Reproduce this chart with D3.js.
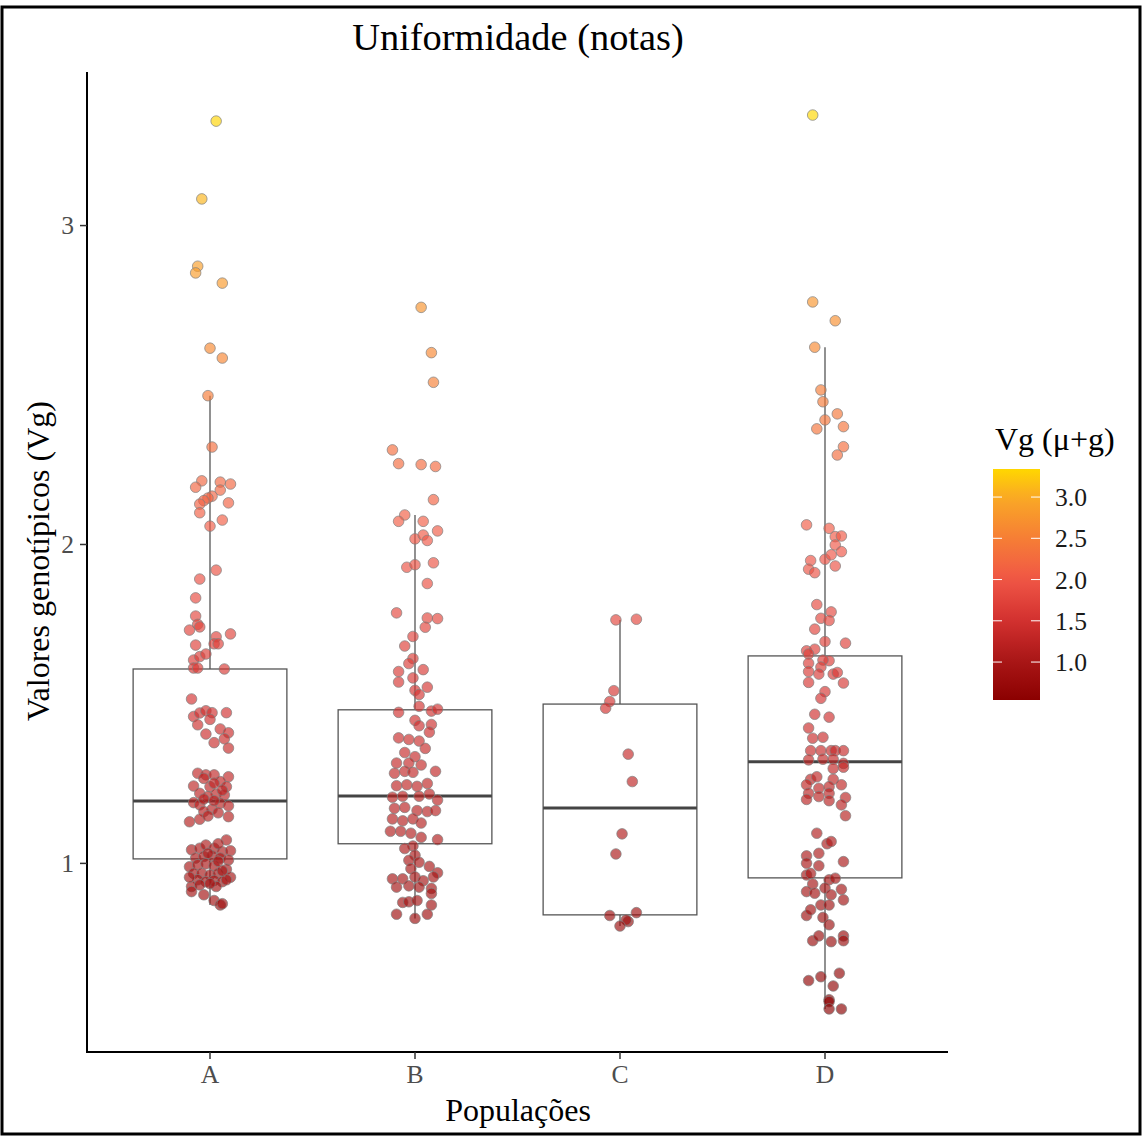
<!DOCTYPE html>
<html>
<head>
<meta charset="utf-8">
<script src="https://cdn.jsdelivr.net/npm/d3@7"></script>
<style>
  body { margin: 0; background: #fff; }
  text { font-family: "Liberation Serif", "Times New Roman", serif; }
</style>
</head>
<body>
<script>
// populations and the box stats
const populations = ['A', 'B', 'C', 'D']
const q1 = [1.0125, 1.06, 0.837, 0.953]
const medians = [1.194, 1.21, 1.172, 1.317]
const q3 = [1.608, 1.48, 1.498, 1.649]
const whiskLo = [0.868, 0.826, 0.802, 0.542]
const whiskHi = [2.465, 2.091, 1.762, 2.617]

const yTicks = [1, 2, 3]
const legendTicks = [1.0, 1.5, 2.0, 2.5, 3.0]

// points: [Vg, jitter offset in category units]
const pointsA = [[3.326,0.03],[3.082,-0.04],[2.871,-0.06],[2.850,-0.07],[2.818,0.06],[2.614,0.0],[2.583,0.06],[2.465,-0.01],[2.304,0.01],
  [2.198,-0.04],[2.178,-0.07],[2.194,0.05],[2.188,0.10],[2.169,0.05],[2.150,0.01],[2.144,-0.01],[2.136,-0.03],[2.125,-0.05],[2.129,0.09],[2.098,-0.05],[2.075,0.06],[2.056,0.0],
  [1.918,0.03],[1.890,-0.05],[1.831,-0.07],[1.774,-0.07],[1.748,-0.06],[1.730,-0.10],[1.740,-0.05],[1.718,0.10],[1.709,0.03],
  [1.683,-0.07],[1.687,0.02],[1.687,0.04],[1.636,-0.08],[1.647,-0.05],[1.655,-0.02],[1.611,-0.08],[1.611,-0.06],[1.608,0.07],
  [1.514,-0.09],[1.459,-0.08],[1.470,-0.05],[1.477,-0.02],[1.471,0.01],[1.450,0.0],[1.471,0.08],
  [1.433,-0.06],[1.420,0.05],[1.408,0.09],[1.404,-0.02],[1.389,0.07],[1.377,0.02],[1.360,0.09],
  [1.281,-0.06],[1.276,-0.02],[1.276,0.02],[1.270,0.09],[1.255,0.05],[1.241,-0.08],[1.239,0.0],[1.239,0.08],[1.218,-0.05],[1.216,0.03],[1.213,0.07],[1.208,-0.01],
  [1.189,-0.08],[1.182,-0.05],[1.187,0.05],[1.179,0.09],[1.168,0.01],[1.161,-0.03],[1.157,0.04],[1.145,0.09],[1.129,-0.10],[1.137,-0.05],[1.147,-0.01],
  [1.265,-0.03],[1.250,0.02],[1.228,0.06],[1.200,-0.03],[1.195,0.02],
  [1.072,0.08],[1.041,-0.09],[1.046,-0.05],[1.056,-0.02],[1.046,0.02],[1.035,0.06],[1.038,0.10],[1.015,-0.07],[1.020,-0.03],[1.022,0.01],[1.015,0.05],[1.009,0.09],
  [0.988,-0.10],[0.994,-0.06],[0.997,-0.02],[0.991,0.02],[0.980,0.08],[0.967,-0.08],[0.967,-0.04],[0.962,0.0],[0.967,0.04],[0.955,0.10],
  [0.947,-0.06],[0.941,-0.02],[0.945,0.02],[0.941,0.06],[0.947,0.08],[0.926,-0.09],[0.931,-0.05],[0.926,0.03],[0.910,-0.09],[0.900,-0.03],[0.882,0.02],[0.868,0.05],
  [1.030,-0.01],[1.005,0.04],[0.975,0.06],[0.955,-0.10],[0.935,0.0],[1.060,0.04],[0.872,0.06]]

const pointsB = [[2.742,0.03],[2.600,0.08],[2.507,0.09],[2.295,-0.11],[2.252,-0.08],[2.249,0.03],[2.243,0.10],[2.139,0.09],[2.091,-0.05],[2.071,-0.08],[2.071,0.04],[2.041,0.11],
  [2.016,0.0],[2.028,0.04],[2.011,0.06],[1.927,-0.04],[1.935,0.0],[1.941,0.09],[1.876,0.06],[1.784,-0.09],[1.768,0.06],[1.766,0.11],[1.739,0.05],[1.710,-0.01],[1.680,-0.05],
  [1.641,-0.01],[1.625,-0.03],[1.600,-0.08],[1.606,0.04],[1.567,-0.08],[1.580,-0.01],[1.541,0.0],[1.551,0.06],[1.528,0.02],[1.472,-0.08],[1.491,0.02],[1.476,0.08],[1.482,0.11],
  [1.447,0.0],[1.430,0.02],[1.434,0.08],[1.392,-0.08],[1.387,-0.03],[1.382,0.02],[1.410,0.07],[1.346,-0.05],[1.333,0.0],[1.359,0.05],[1.313,-0.09],[1.313,-0.03],[1.307,0.03],[1.287,0.10],
  [1.281,-0.10],[1.287,-0.05],[1.284,-0.01],[1.242,-0.09],[1.245,-0.04],[1.240,0.01],[1.249,0.06],[1.206,-0.11],[1.209,-0.06],[1.209,0.02],[1.216,0.07],[1.197,0.11],
  [1.171,-0.10],[1.174,-0.05],[1.164,0.01],[1.161,0.06],[1.164,0.10],[1.138,-0.11],[1.132,-0.06],[1.138,-0.01],[1.125,0.03],[1.099,-0.12],[1.099,-0.07],[1.093,-0.02],[1.080,0.03],[1.073,0.11],
  [1.053,-0.01],[1.045,-0.05],[1.024,0.0],[1.008,-0.03],[1.002,0.02],[0.982,-0.02],[0.989,0.07],[0.969,0.11],[0.950,-0.11],[0.950,-0.06],[0.956,0.0],[0.944,0.04],[0.956,0.09],
  [0.924,-0.09],[0.928,-0.03],[0.924,0.02],[0.920,0.08],[0.904,0.08],[0.876,-0.06],[0.878,-0.03],[0.882,0.01],[0.868,0.08],[0.839,-0.09],[0.826,0.0],[0.839,0.06]]

const pointsC = [[1.762,-0.02],[1.764,0.08],[1.540,-0.03],[1.506,-0.05],[1.485,-0.07],[1.341,0.04],[1.255,0.06],[1.091,0.01],[1.028,-0.02],
  [0.835,-0.05],[0.844,0.08],[0.816,0.04],[0.821,0.03],[0.802,0.0]]

const pointsD = [[3.345,-0.06],[2.759,-0.06],[2.700,0.05],[2.617,-0.05],[2.483,-0.02],[2.446,-0.01],[2.408,0.06],[2.389,0.0],[2.368,0.09],[2.361,-0.04],[2.305,0.09],[2.279,0.06],
  [2.060,-0.09],[2.049,0.02],[2.023,0.05],[2.025,0.08],[1.997,0.05],[1.948,-0.07],[1.976,0.08],[1.952,0.0],[1.966,0.03],[1.921,-0.08],[1.910,-0.05],[1.931,0.05],
  [1.810,-0.04],[1.787,0.03],[1.767,-0.02],[1.760,0.02],[1.733,-0.05],[1.694,0.0],[1.689,0.10],[1.665,-0.09],[1.670,-0.05],[1.655,-0.08],[1.634,0.02],[1.636,-0.01],
  [1.626,-0.08],[1.614,-0.02],[1.600,-0.08],[1.592,-0.03],[1.592,0.04],[1.597,0.06],[1.566,-0.08],[1.564,0.09],[1.537,0.0],[1.516,-0.02],[1.466,-0.05],[1.457,0.02],
  [1.423,-0.08],[1.391,-0.06],[1.394,-0.01],[1.352,-0.07],[1.352,-0.02],[1.352,0.03],[1.352,0.05],[1.352,0.09],[1.323,-0.08],[1.325,-0.01],[1.325,0.04],[1.312,0.09],
  [1.296,0.04],[1.300,0.09],[1.262,-0.07],[1.270,-0.04],[1.262,0.04],[1.245,-0.09],[1.234,-0.03],[1.239,0.02],[1.245,0.08],[1.218,-0.08],[1.208,-0.03],[1.218,0.02],[1.205,0.10],
  [1.199,-0.09],[1.195,0.02],[1.182,0.08],[1.148,0.10],[1.093,-0.04],[1.060,0.01],[1.067,0.03],[1.022,-0.09],[1.030,-0.03],[0.999,-0.09],[0.991,-0.03],[1.004,0.09],
  [0.962,-0.09],[0.967,-0.07],[0.947,0.02],[0.952,0.05],[0.934,-0.06],[0.921,0.0],[0.917,0.08],[0.910,-0.09],[0.905,-0.05],[0.900,0.03],[0.884,0.09],[0.868,-0.02],[0.868,0.02],
  [0.835,-0.09],[0.853,-0.07],[0.829,-0.01],[0.806,0.02],[0.756,-0.06],[0.771,-0.03],[0.753,0.03],[0.771,0.09],[0.756,0.09],
  [0.631,-0.08],[0.643,-0.02],[0.654,0.07],[0.614,0.04],[0.571,0.02],[0.565,0.02],[0.542,0.02],[0.542,0.08]]

const allPoints = [pointsA, pointsB, pointsC, pointsD]

let width = 1143
let height = 1136

const svg = d3.select('body').append('svg').attr('width', width).attr('height', height)

// outer frame of the figure
svg.append('rect').attr('x', 2).attr('y', 7).attr('width', 1138).attr('height', 1127)
  .attr('fill', 'none').attr('stroke', '#000').attr('stroke-width', 3)

const xScale = d3.scaleBand().domain(populations).range([87, 948]).paddingInner(0).paddingOuter(0.1)
const yScale = d3.scaleLinear().domain([0.407, 3.48]).range([1052, 72])

const colorScale = d3.scaleLinear()
  .domain([0.54, 1.0, 1.5, 2.0, 2.5, 3.0, 3.34])
  .range(['#8B0000', '#A81616', '#D2302F', '#F05646', '#F67E35', '#FAA925', '#FFD700'])
  .interpolate(d3.interpolateRgb)

const step = xScale.step()
const boxW = step * 0.75
const center = (i) => xScale(populations[i]) + xScale.bandwidth() / 2

// whiskers + boxes
const boxes = svg.append('g')
populations.forEach((p, i) => {
  boxes.append('line').attr('x1', center(i)).attr('x2', center(i))
    .attr('y1', yScale(q3[i])).attr('y2', yScale(whiskHi[i]))
    .attr('stroke', '#555').attr('stroke-width', 1.3)
  boxes.append('line').attr('x1', center(i)).attr('x2', center(i))
    .attr('y1', yScale(q1[i])).attr('y2', yScale(whiskLo[i]))
    .attr('stroke', '#555').attr('stroke-width', 1.3)
  boxes.append('rect')
    .attr('x', center(i) - boxW / 2).attr('width', boxW)
    .attr('y', yScale(q3[i])).attr('height', yScale(q1[i]) - yScale(q3[i]))
    .attr('fill', '#fff').attr('stroke', '#555').attr('stroke-width', 1.3)
  boxes.append('line')
    .attr('x1', center(i) - boxW / 2).attr('x2', center(i) + boxW / 2)
    .attr('y1', yScale(medians[i])).attr('y2', yScale(medians[i]))
    .attr('stroke', '#444').attr('stroke-width', 3)
})

// jittered points
populations.forEach((p, i) => {
  svg.append('g')
    .selectAll('circle')
    .data(allPoints[i])
    .enter()
    .append('circle')
    .attr('cx', d => center(i) + d[1] * step)
    .attr('cy', d => yScale(d[0]))
    .attr('r', 5.3)
    .attr('fill', d => colorScale(d[0]))
    .attr('fill-opacity', 0.66)
    .attr('stroke', '#808080')
    .attr('stroke-opacity', 0.7)
    .attr('stroke-width', 1)
})

// axes
const yAxis = d3.axisLeft(yScale).tickValues(yTicks).tickSize(7).tickPadding(6).tickFormat(d3.format('d'))
const xAxis = d3.axisBottom(xScale).tickSize(7).tickPadding(6)

const gy = svg.append('g').attr('transform', 'translate(87,0)').call(yAxis)
const gx = svg.append('g').attr('transform', 'translate(0,1052)').call(xAxis)

;[gx, gy].forEach(g => {
  g.select('.domain').attr('stroke', '#000').attr('stroke-width', 2)
  g.selectAll('.tick line').attr('stroke', '#333').attr('stroke-width', 1.5)
  g.selectAll('.tick text').attr('fill', '#4D4D4D')
    .style('font-family', '"Liberation Serif", serif').style('font-size', '25.6px')
})
gy.select('.domain').attr('d', 'M0,1053V72')
gx.select('.domain').attr('d', 'M86,0H948')

// titles
svg.append('text').attr('x', 518).attr('y', 50).attr('text-anchor', 'middle')
  .style('font-size', '38.4px').text('Uniformidade (notas)')

svg.append('text').attr('x', 518).attr('y', 1121).attr('text-anchor', 'middle')
  .style('font-size', '32px').text('Populações')

svg.append('text').attr('transform', 'translate(49,561) rotate(-90)').attr('text-anchor', 'middle')
  .style('font-size', '32px').text('Valores genotípicos (Vg)')

// legend
const legendScale = d3.scaleLinear().domain([0.54, 3.34]).range([700, 469])
const defs = svg.append('defs')
const grad = defs.append('linearGradient').attr('id', 'vg-grad')
  .attr('x1', 0).attr('y1', 1).attr('x2', 0).attr('y2', 0)
d3.range(0, 1.0001, 0.05).forEach(t => {
  grad.append('stop').attr('offset', t).attr('stop-color', colorScale(0.54 + t * (3.34 - 0.54)))
})

const legend = svg.append('g').attr('id', 'legend')
legend.append('text').attr('x', 995).attr('y', 450).style('font-size', '32px').text('Vg (μ+g)')
legend.append('rect').attr('x', 993).attr('y', 469).attr('width', 47).attr('height', 231)
  .attr('fill', 'url(#vg-grad)')

legend.selectAll('.lt')
  .data(legendTicks)
  .enter()
  .append('g')
  .each(function (d) {
    const g = d3.select(this)
    const y = legendScale(d)
    g.append('line').attr('x1', 993).attr('x2', 1002).attr('y1', y).attr('y2', y).attr('stroke', '#fff').attr('stroke-width', 1)
    g.append('line').attr('x1', 1031).attr('x2', 1040).attr('y1', y).attr('y2', y).attr('stroke', '#fff').attr('stroke-width', 1)
    g.append('text').attr('x', 1055).attr('y', y).attr('dy', '0.35em')
      .style('font-size', '25.6px').attr('fill', '#1a1a1a').text(d3.format('.1f')(d))
  })
</script>
</body>
</html>
